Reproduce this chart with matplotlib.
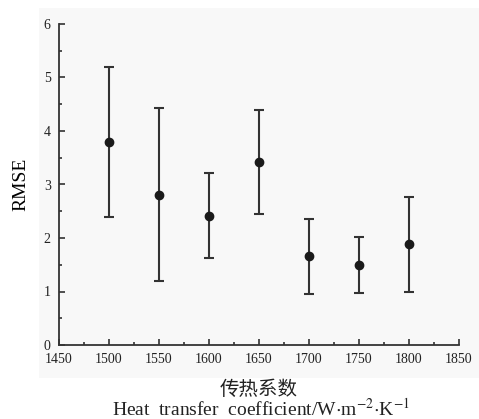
import matplotlib
matplotlib.use('Agg')
import matplotlib.pyplot as plt
from matplotlib.patches import Rectangle
from matplotlib.ticker import MultipleLocator

# heat transfer coefficient vs RMSE (mean, lower end, upper end of bar)
htc = [1500, 1550, 1600, 1650, 1700, 1750, 1800]
rmse = [3.79, 2.81, 2.42, 3.42, 1.66, 1.49, 1.88]
low = [2.39, 1.19, 1.63, 2.44, 0.96, 0.97, 1.00]
high = [5.20, 4.43, 3.21, 4.40, 2.36, 2.02, 2.77]

err_lo = [m - l for m, l in zip(rmse, low)]
err_hi = [h - m for m, h in zip(rmse, high)]

plt.rcParams['font.family'] = ['Liberation Serif', 'DejaVu Serif']
plt.rcParams['mathtext.fontset'] = 'stix'
dark = '#333333'

fig = plt.figure(figsize=(4.79, 4.19), dpi=100)
# light grey panel behind the plot
fig.patches.append(Rectangle((39 / 479, 1 - 378 / 419), 440 / 479, 370 / 419,
                             transform=fig.transFigure, facecolor='#f8f8f8',
                             edgecolor='none', zorder=-5))
ax = fig.add_axes([59 / 479, 1 - 345 / 419, 400 / 479, 321 / 419])
ax.set_facecolor('none')
ax.set_zorder(2)

ax.errorbar(htc, rmse, yerr=[err_lo, err_hi], fmt='o', color='#1a1a1a',
            ecolor=dark, elinewidth=1.5, capsize=3.5, capthick=1.5,
            markersize=6)

ax.set_xlim(1450, 1850)
ax.set_ylim(0, 6)
ax.xaxis.set_major_locator(MultipleLocator(50))
ax.xaxis.set_minor_locator(MultipleLocator(25))
ax.yaxis.set_major_locator(MultipleLocator(1))
ax.yaxis.set_minor_locator(MultipleLocator(0.5))
for s in ['top', 'right']:
    ax.spines[s].set_visible(False)
for s in ['left', 'bottom']:
    ax.spines[s].set_color(dark)
    ax.spines[s].set_linewidth(1.3)
ax.tick_params(which='major', direction='in', length=4.5, width=1.2,
               color=dark, labelsize=10, labelcolor='#222222')
ax.tick_params(which='minor', direction='in', length=2.5, width=1.2, color=dark)
ax.tick_params(axis='x', pad=6)
ax.tick_params(axis='y', pad=6)

ax.set_ylabel('RMSE', fontsize=14, labelpad=10)

fig.text(259 / 479, 1 - 389 / 419, '传热系数', ha='center', va='center',
         fontsize=14, family=['Noto Sans CJK SC', 'DejaVu Sans'], color='#222222')
fig.text(261 / 479, 1 - 416 / 419,
         r'Heat  transfer  coefficient/W$\cdot$m$^{-2}$$\cdot$K$^{-1}$',
         ha='center', va='baseline', fontsize=14, color='#222222')

fig.savefig('out.png', dpi=100)
